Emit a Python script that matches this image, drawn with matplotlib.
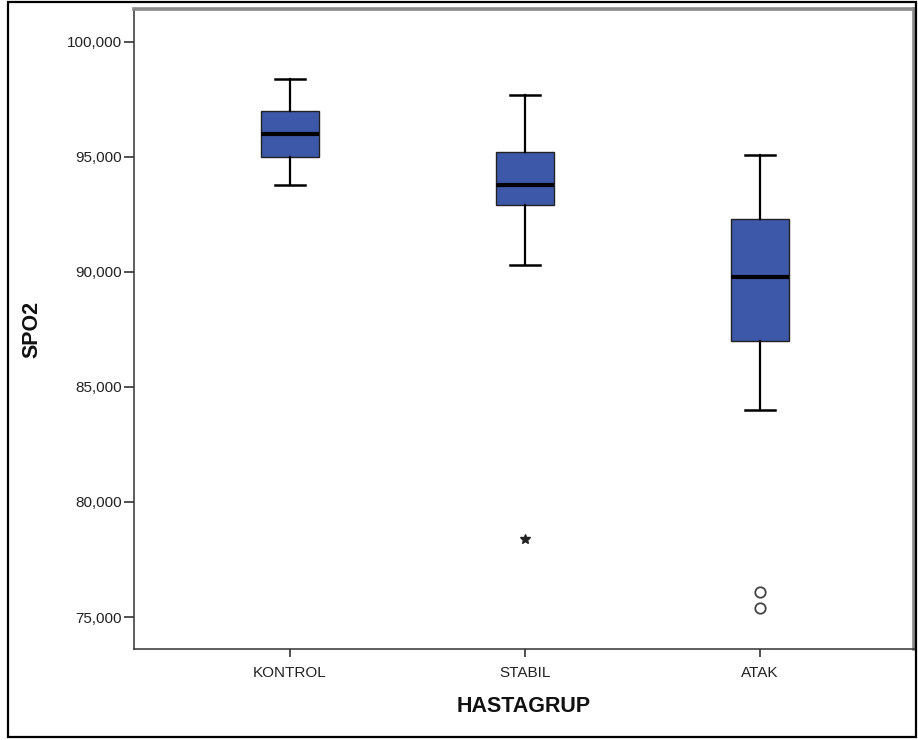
import matplotlib
matplotlib.use("Agg")
import matplotlib.pyplot as plt
from matplotlib.patches import Rectangle
from matplotlib.ticker import FuncFormatter

plt.rcParams["font.family"] = ["Liberation Sans", "DejaVu Sans"]

# SPO2 dagilimi, HASTAGRUP bazinda
groups = ["KONTROL", "STABIL", "ATAK"]
whisker_low = [93.8, 90.3, 84.0]
q1 = [95.0, 92.9, 87.0]
median = [96.0, 93.8, 89.8]
q3 = [97.0, 95.2, 92.3]
whisker_high = [98.4, 97.7, 95.1]
outliers = [[], [], [76.1, 75.4]]   # daire
extremes = [[], [78.4], []]         # yildiz

yticks = [75, 80, 85, 90, 95, 100]

BOX_BLUE = "#3e58a9"

fig = plt.figure(figsize=(9.18, 7.4), dpi=100, facecolor="white")
ax = fig.add_axes([134 / 918, 91 / 740, 780 / 918, 640 / 740])

positions = list(range(1, len(groups) + 1))
stats = [
    dict(med=m, q1=a, q3=b, whislo=lo, whishi=hi, fliers=[])
    for m, a, b, lo, hi in zip(median, q1, q3, whisker_low, whisker_high)
]
ax.bxp(
    stats, positions=positions, widths=0.25, patch_artist=True,
    showfliers=False,
    boxprops=dict(facecolor=BOX_BLUE, edgecolor="#222222", linewidth=1.0),
    medianprops=dict(color="black", linewidth=3.0),
    whiskerprops=dict(color="black", linewidth=1.6),
    capprops=dict(color="black", linewidth=1.8),
    capwidths=0.125,
)

for pos, vals in zip(positions, outliers):
    if vals:
        ax.plot([pos] * len(vals), vals, linestyle="none", marker="o",
                markersize=7.5, markerfacecolor="none",
                markeredgecolor="#444444", markeredgewidth=1.3)
for pos, vals in zip(positions, extremes):
    if vals:
        ax.plot([pos] * len(vals), vals, linestyle="none", marker="*",
                markersize=7.5, color="#222222")

ax.set_xlim(0.336, 3.655)
ax.set_ylim(73.61, 101.43)
ax.set_xticks(positions)
ax.set_xticklabels(groups)
ax.set_yticks(yticks)
ax.yaxis.set_major_formatter(FuncFormatter(lambda v, _: f"{v:.3f}".replace(".", ",")))

ax.tick_params(axis="y", length=7.5, width=1.1, pad=1.5, labelsize=11, colors="#222222")
ax.tick_params(axis="x", length=6, width=1.1, pad=6, labelsize=11, colors="#222222")

# cerceve: sol/alt koyu, ust/sag gri golgeli
for side in ("left", "bottom"):
    ax.spines[side].set_color("#333333")
    ax.spines[side].set_linewidth(1.1)
for side in ("top", "right"):
    ax.spines[side].set_color("#8a8a8a")
    ax.spines[side].set_linewidth(2.6)

ax.set_xlabel("HASTAGRUP", fontsize=15.5, fontweight="bold", color="#111111")
ax.xaxis.set_label_coords(0.5, -0.073)
ax.set_ylabel("SPO2", fontsize=15.5, fontweight="bold", color="#111111")
ax.yaxis.set_label_coords(-0.118, 0.5)

# dis cerceve
fig.patches.append(Rectangle((8 / 918, 3 / 740), 908 / 918, 735 / 740,
                             transform=fig.transFigure, fill=False,
                             edgecolor="black", linewidth=1.6, zorder=10))

fig.savefig("out.png", dpi=100, facecolor="white")
